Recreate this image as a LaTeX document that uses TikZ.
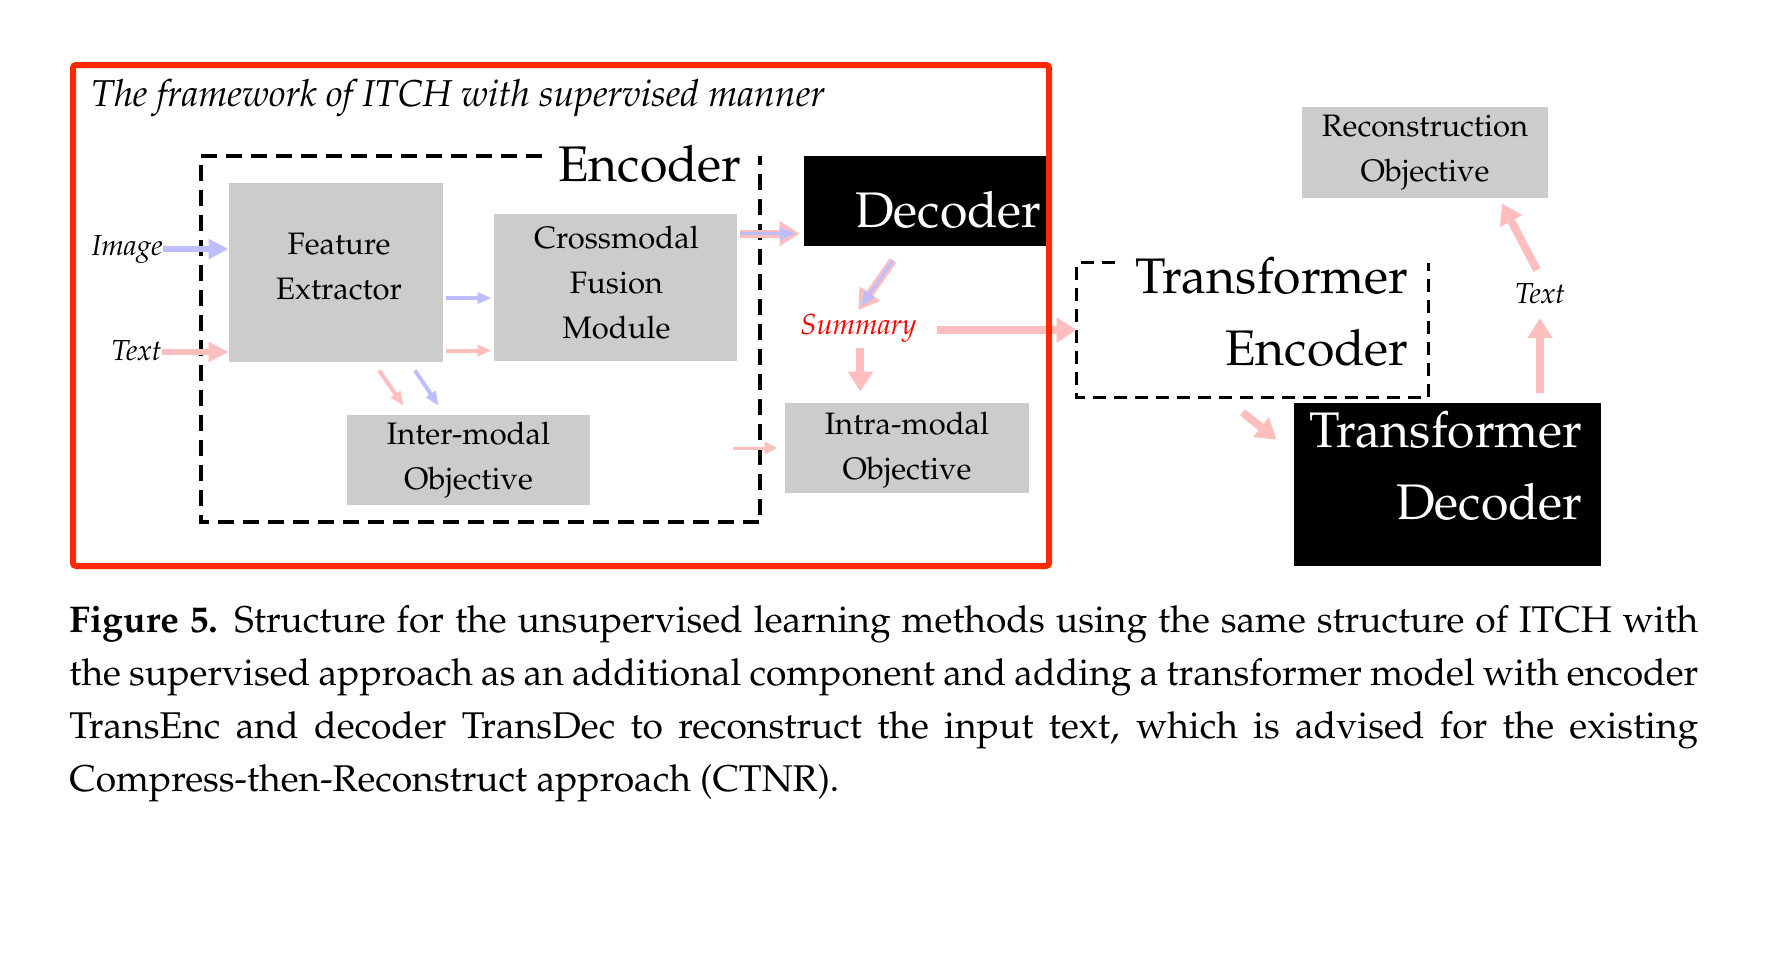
\documentclass[tikz,border=0pt]{standalone}
\usepackage[T1]{fontenc}
\usepackage{palatino}
\usetikzlibrary{arrows.meta,calc}
\definecolor{redframe}{RGB}{255,40,0}
\definecolor{boxgray}{RGB}{204,204,204}
\definecolor{pinkarr}{RGB}{255,190,190}
\definecolor{bluearr}{RGB}{190,190,255}
\definecolor{summred}{RGB}{255,0,0}
\newcommand{\fs}[2]{\fontsize{#1}{#2}\selectfont}
\tikzset{
  graybox/.style={fill=boxgray, inner sep=0pt, align=center, font=\fs{15.5}{22.5}},
  boxtxt/.style={inner sep=0pt, align=center, font=\fs{15.5}{22.5}},
  blackbox/.style={fill=black, inner sep=0pt},
  biglbl/.style={inner sep=0pt, font=\fs{25}{36}, anchor=base east},
  bigwhite/.style={biglbl, text=white},
  itlbl/.style={inner sep=0pt, font=\fs{14.5}{17}\itshape},
  bluebig/.style={draw=bluearr, line width=3pt, -{Triangle[width=9.5pt,length=10pt]}},
  pinkbig/.style={draw=pinkarr, line width=3pt, -{Triangle[width=9.5pt,length=10pt]}},
  pinkfat/.style={draw=pinkarr, line width=4pt, -{Triangle[width=12pt,length=10pt]}},
  pinksm/.style={draw=pinkarr, line width=2pt, -{Triangle[width=5.5pt,length=7pt]}},
  bluesm/.style={draw=bluearr, line width=2pt, -{Triangle[width=5.5pt,length=7pt]}},
  pinkthin/.style={draw=pinkarr, line width=1.5pt, -{Triangle[width=6pt,length=6.5pt]}},
  bluein/.style={draw=bluearr, line width=1.5pt, -{Triangle[width=6pt,length=8pt]}},
  encdash/.style={draw=black, line width=2pt, dash pattern=on 8pt off 4.5pt},
  tedash/.style={draw=black, line width=1.4pt, dash pattern=on 6.5pt off 4pt},
}
\begin{document}
\begin{tikzpicture}[x=0.5pt,y=-0.5pt]
\useasboundingbox (0,0) rectangle (1778,966);

% title
\node[anchor=base west, inner sep=0pt, font=\fs{18.7}{23}\itshape] (title) at (91,106) {The framework of ITCH with supervised manner};

% encoder region
\node[minimum width=279.5pt, minimum height=183pt, inner sep=0pt] (enc) at (480.5,339) {};
\draw[encdash] ($(enc.north west)+(341,0)$) -- (enc.north west) -- (enc.south west) -- (enc.south east) -- (enc.north east);
\node[biglbl] (enclbl) at (742,181) {Encoder};

\node[graybox, minimum width=107pt, minimum height=89.5pt] (fe) at (336,272.5) {};
\node[boxtxt] (fet) at ($(fe.center)+(3,-6)$) {Feature\\Extractor};
\node[graybox, minimum width=121.5pt, minimum height=73.5pt] (cm) at (615.5,287.5) {};
\node[boxtxt] (cmt) at ($(cm.center)+(1,-5)$) {Crossmodal\\Fusion\\Module};
\node[graybox, minimum width=121.5pt, minimum height=45pt] (inter) at (468.5,460) {Inter-modal\\Objective};
\node[graybox, minimum width=122pt, minimum height=45pt] (intra) at (907,448) {};
\node[boxtxt] (intrat) at ($(intra.center)+(0,2)$) {Intra-modal\\Objective};
\node[blackbox, minimum width=121pt, minimum height=45pt] (dec) at (925,201) {};
\node[bigwhite] (declbl) at (1042,227) {Decoder};

% inputs
\node[itlbl, anchor=base east] (img) at (163,255) {Image};
\node[itlbl, anchor=base east] (txt) at (162,360) {Text};
\coordinate (ia) at ([yshift=3pt]img.base east);
\draw[bluebig] (ia) -- (ia -| fe.west);
\coordinate (ta) at ([yshift=4pt]txt.base east);
\draw[pinkbig] (ta) -- (ta -| fe.west);

% FE -> CM
\coordinate (fb) at ($(fe.east)+(3,25.5)$);
\draw[bluesm, shorten >=1pt] (fb) -- (fb -| cm.west);
\coordinate (fp) at ($(fe.east)+(3,78)$);
\draw[pinksm, shorten >=1pt] (fp) -- (fp -| cm.west);

% FE -> Inter
\draw[pinksm] ($(fe.south)+(43,8)$) -- ($(inter.north)+(-65,-9)$);
\draw[bluesm] ($(fe.south)+(79,8)$) -- ($(inter.north)+(-30,-9)$);

% CM -> Decoder
\coordinate (cd) at ($(cm.north east)+(3,20)$);
\draw[pinkfat, shorten >=2pt] (cd) -- (cd -| dec.west);
\draw[bluein, shorten >=4pt] (cd) -- (cd -| dec.west);

% Summary
\node[itlbl, text=summred, anchor=base west] (sum) at (800,334) {Summary};
\draw[pinkfat] ($(dec.south)+(-32,14)$) -- ($(sum.base)+(0,-24)$);
\draw[bluein, shorten >=2pt] ($(dec.south)+(-32,14)$) -- ($(sum.base)+(0,-24)$);

% transformer encoder
\node[minimum width=175.5pt, minimum height=67pt, inner sep=0pt] (te) at (1252.5,330) {};
\draw[tedash] ($(te.north west)+(38,0)$) -- (te.north west) -- (te.south west) -- (te.south east) -- (te.north east);
\node[biglbl] (te1) at (1409,293) {Transformer};
\node[biglbl] (te2) at (1409,365) {Encoder};

\coordinate (sa) at ($(sum.base east)+(20,-4)$);
\draw[pinkfat] (sa) -- (sa -| te.west);
\coordinate (sb) at ($(sum.base)+(2,14)$);
\draw[pinkfat, shorten >=5.5pt] (sb) -- (sb |- intra.north);
\draw[pinkthin, shorten >=3.5pt] ($(intra.west)+(-52,0)$) -- (intra.west);

% transformer decoder
\node[blackbox, minimum width=153.5pt, minimum height=81.5pt] (td) at (1447.5,484.5) {};
\node[bigwhite] (td1) at (1583,447) {Transformer};
\node[bigwhite] (td2) at (1583,519) {Decoder};

\node[graybox, minimum width=123pt, minimum height=45.5pt] (rec) at (1425,152.5) {Reconstruction\\Objective};
\node[itlbl, anchor=base] (txt2) at (1540,303) {Text};

\draw[pinkfat] ($(te.south)+(-10,15)$) -- ($(td.north west)+(-17,37)$);
\coordinate (tu) at ($(td.north)+(92.5,-10)$);
\draw[pinkfat] (tu) -- ($(txt2.base)+(0,15)$);
\draw[pinkfat] ($(txt2.base)+(-3,-33)$) -- ($(rec.south)+(77,5)$);

% red frame
\draw[redframe, line width=3pt, rounded corners=1.5pt] (73,65) rectangle (1049,566);

% caption
\node[anchor=north west, inner sep=0pt, text width=814.5pt, align=justify, font=\fs{18.6}{26.5}] (cap) at (69,605.5)
{\textbf{Figure 5.} Structure for the unsupervised learning methods using the same structure of ITCH with\linebreak the supervised approach as an additional component and adding a transformer model with encoder\linebreak TransEnc and decoder TransDec to reconstruct the input text, which is advised for the existing\linebreak Compress-then-Reconstruct approach (CTNR).};
\end{tikzpicture}
\end{document}
